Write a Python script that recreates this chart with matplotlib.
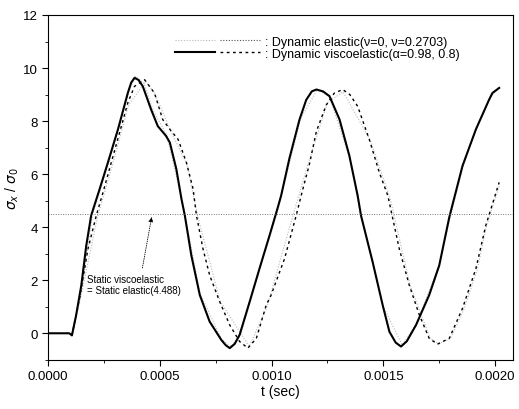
import matplotlib
matplotlib.use('Agg')
import matplotlib.pyplot as plt
from matplotlib.ticker import MultipleLocator, FormatStrFormatter
from matplotlib.legend_handler import HandlerTuple

plt.rcParams['font.family'] = ['Liberation Sans', 'DejaVu Sans']

# Dynamic viscoelastic, alpha = 0.98 (solid)
t_visc98 = [0.0, 0.000095, 0.000107, 0.000126, 0.000149, 0.000171, 0.000193, 0.000231,
            0.000268, 0.000313, 0.000357, 0.000372, 0.000387, 0.000405, 0.000424,
            0.000461, 0.000491, 0.000528, 0.000545, 0.000574, 0.000597, 0.000612,
            0.000641, 0.000679, 0.000723, 0.000775, 0.000795, 0.000813, 0.000835,
            0.000857, 0.000902, 0.000946, 0.000991, 0.001028, 0.001043, 0.00108,
            0.001125, 0.001155, 0.00118, 0.0012, 0.00123, 0.001259, 0.001304,
            0.001348, 0.001385, 0.0014, 0.001452, 0.001497, 0.001527, 0.001555,
            0.001579, 0.001605, 0.001646, 0.001705, 0.00175, 0.001795, 0.001854,
            0.001914, 0.001973, 0.001988, 0.002018]
s_visc98 = [0.0, 0.0, -0.08, 0.69, 1.81, 3.3, 4.44, 5.44,
            6.44, 7.69, 9.06, 9.45, 9.63, 9.55, 9.31,
            8.44, 7.81, 7.44, 7.19, 6.19, 5.06, 4.44,
            2.94, 1.44, 0.44, -0.25, -0.45, -0.56, -0.4,
            -0.06, 1.19, 2.44, 3.69, 4.75, 5.2, 6.6,
            8.06, 8.8, 9.12, 9.19, 9.12, 8.94, 8.06,
            6.69, 5.19, 4.44, 2.69, 1.06, 0.06, -0.35,
            -0.5, -0.3, 0.31, 1.44, 2.56, 4.38, 6.31,
            7.69, 8.81, 9.06, 9.25]

# Dynamic viscoelastic, alpha = 0.8 (dashed)
t_visc80 = [0.000107, 0.000141, 0.000179, 0.000216, 0.000246, 0.000283, 0.00032,
            0.000357, 0.000387, 0.000432, 0.000476, 0.000513, 0.000545, 0.000582,
            0.000619, 0.000649, 0.000664, 0.000693, 0.000723, 0.000768, 0.000813,
            0.000857, 0.000894, 0.000932, 0.000976, 0.000998, 0.001028, 0.001058,
            0.00111, 0.00114, 0.00117, 0.0012, 0.001244, 0.00128, 0.001318, 0.00135,
            0.001385, 0.001437, 0.001482, 0.00152, 0.001571, 0.001616, 0.001661,
            0.001705, 0.001742, 0.001795, 0.001854, 0.001914, 0.001958, 0.002018]
s_visc80 = [-0.08, 1.31, 3.19, 4.44, 5.31, 6.44, 7.56,
            8.69, 9.31, 9.56, 9.06, 8.06, 7.69, 7.31,
            6.44, 5.44, 4.44, 3.19, 2.19, 1.19, 0.31,
            -0.31, -0.56, -0.19, 1.06, 1.44, 2.13, 2.81,
            4.44, 5.44, 6.4, 7.6, 8.6, 9.05, 9.19, 9.0,
            8.56, 7.31, 6.06, 5.19, 3.19, 1.81, 0.69,
            -0.19, -0.41, -0.19, 0.94, 2.44, 4.06, 5.69]

# Dynamic elastic, nu = 0 (faint dotted, close to the solid curve)
t_elas0 = [0.000107, 0.000155, 0.0002, 0.00027, 0.00036, 0.000392, 0.00043, 0.00047,
           0.00053, 0.0006, 0.00068, 0.000775, 0.000818, 0.00086, 0.00095, 0.00103,
           0.00113, 0.001205, 0.00126, 0.00135, 0.0014, 0.0015, 0.001585,
           0.00165, 0.00175, 0.0018, 0.00186, 0.00192, 0.00198, 0.00202]
s_elas0 = [-0.08, 1.9, 4.5, 6.4, 9.1, 9.7, 9.4, 8.4,
           7.5, 5.0, 1.5, -0.2, -0.5, -0.1, 2.5, 4.7,
           8.1, 9.2, 8.9, 6.6, 4.4, 1.0, -0.45,
           0.4, 2.6, 4.4, 6.4, 7.8, 8.9, 9.3]

# Dynamic elastic, nu = 0.2703 (faint dotted, close to the dashed curve)
t_elas27 = [0.000107, 0.000145, 0.000222, 0.00029, 0.00036, 0.000437, 0.00048, 0.00055,
            0.00062, 0.00067, 0.00077, 0.0009, 0.00098, 0.00106, 0.00116, 0.00125,
            0.00132, 0.00144, 0.00153, 0.00162, 0.00171, 0.001748, 0.0018, 0.00186,
            0.00192, 0.00196, 0.00202]
s_elas27 = [-0.08, 1.3, 4.4, 6.4, 8.6, 9.5, 9.0, 7.6,
            6.4, 4.4, 1.2, -0.5, 1.0, 3.4, 6.3, 8.7,
            9.1, 7.3, 5.1, 1.8, -0.2, -0.4, -0.2, 0.9,
            2.4, 4.0, 5.6]

STATIC_VALUE = 4.488

fig = plt.figure(figsize=(5.19, 4.10), dpi=100)
ax = fig.add_axes([0.0925, 0.12, 0.896, 0.841])

ax.plot(t_elas0, s_elas0, color='#b8b8b8', linewidth=0.8, linestyle=(0, (1, 1.5)))
ax.plot(t_elas27, s_elas27, color='#b8b8b8', linewidth=0.8, linestyle=(0, (1, 1.5)))
l98, = ax.plot(t_visc98, s_visc98, color='black', linewidth=1.5)
l80, = ax.plot(t_visc80, s_visc80, color='black', linewidth=1.0, linestyle=(0, (2, 2.5)))

ax.axhline(STATIC_VALUE, color='#777777', linewidth=0.7, linestyle=(0, (1, 1.5)))

# legend handles
h_e0, = ax.plot([], [], color='#b8b8b8', linewidth=0.8, linestyle=(0, (1, 1.5)))
h_e27, = ax.plot([], [], color='#555555', linewidth=0.8, linestyle=(0, (1, 1.5)))
ax.legend([(h_e0, h_e27), (l98, l80)],
          [': Dynamic elastic(\u03bd=0, \u03bd=0.2703)',
           ': Dynamic viscoelastic(\u03b1=0.98, 0.8)'],
          handler_map={tuple: HandlerTuple(ndivide=None, pad=0.4)},
          loc='upper left', bbox_to_anchor=(0.262, 0.955), borderaxespad=0,
          frameon=False, fontsize=9, handlelength=6.8, handletextpad=0.4,
          labelspacing=0.0)

# annotation of static value
ax.annotate('', xy=(0.000466, STATIC_VALUE), xytext=(0.00042, 2.36),
            arrowprops=dict(arrowstyle='-|>', color='black', linewidth=0.6,
                            linestyle=':', mutation_scale=7))
ax.text(0.000175, 1.84, 'Static viscoelastic\n= Static elastic(4.488)',
        fontsize=7, va='center', ha='left', linespacing=1.2)

ax.set_xlim(0.0, 0.00208)
ax.set_ylim(-1, 12)
ax.xaxis.set_major_locator(MultipleLocator(0.0005))
ax.xaxis.set_minor_locator(MultipleLocator(0.00025))
ax.xaxis.set_major_formatter(FormatStrFormatter('%.4f'))
ax.yaxis.set_major_locator(MultipleLocator(2))
ax.yaxis.set_minor_locator(MultipleLocator(1))
ax.tick_params(which='both', direction='out', labelsize=9.5)
ax.tick_params(which='major', length=4)
ax.tick_params(which='minor', length=2)

ax.set_xlabel('t (sec)', fontsize=10, labelpad=1)
ax.set_ylabel(r'$\sigma_x$ / $\sigma_0$', fontsize=10, labelpad=1)

fig.savefig('out.png', dpi=100)
